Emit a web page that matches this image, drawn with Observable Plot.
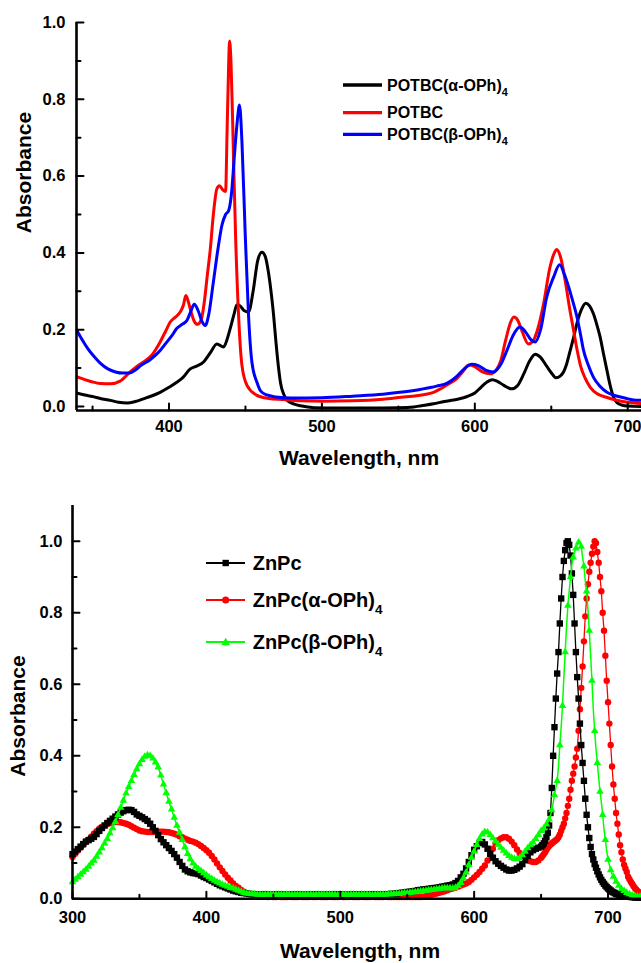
<!DOCTYPE html>
<html><head><meta charset="utf-8">
<script src="https://cdn.jsdelivr.net/npm/d3@7"></script>
<script src="https://cdn.jsdelivr.net/npm/@observablehq/plot@0.6"></script>
<style>
body{margin:0;background:#fff;}
#wrap{position:relative;width:641px;height:963px;overflow:hidden;background:#fff;}
.chart{position:absolute;left:0;}
#overlay{position:absolute;left:0;top:0;pointer-events:none;}
</style></head>
<body><div id="wrap"></div>
<script>
// ---------- TOP PANEL DATA: [wavelength nm, absorbance] ----------
const potbcAlpha = [[339.5,0.035],[345,0.03],[350,0.026],[355,0.021],[361.6,0.016],[367,0.011],[372.5,0.009],[378,0.013],[383.3,0.02],[389,0.028],[394.2,0.037],[400,0.05],[405.1,0.063],[409,0.075],[413.9,0.098],[418,0.105],[422.6,0.116],[427,0.14],[431.3,0.163],[435.7,0.155],[438,0.175],[440,0.203],[442.5,0.24],[444.4,0.265],[446.5,0.262],[449,0.25],[452,0.246],[455,0.3],[458,0.38],[460.8,0.402],[463,0.39],[465,0.35],[467,0.29],[468.3,0.242],[470,0.165],[471.6,0.102],[473,0.06],[474.9,0.033],[477,0.017],[481.4,0.007],[486,0.002],[495,-0.003],[510,-0.004],[530,-0.004],[550,-0.003],[560,-0.001],[565,0.002],[573,0.007],[580,0.013],[586,0.017],[590,0.02],[595,0.026],[600,0.035],[604,0.05],[608,0.064],[611.5,0.07],[615,0.065],[619,0.055],[624,0.046],[628,0.055],[632,0.085],[636,0.12],[639.5,0.136],[643,0.128],[647,0.105],[650,0.088],[653,0.075],[656,0.08],[658,0.09],[660,0.11],[662,0.14],[664.6,0.18],[667,0.22],[670,0.255],[672.5,0.269],[675,0.262],[677.5,0.242],[680,0.21],[682,0.18],[684,0.14],[686.4,0.094],[688.5,0.055],[690.7,0.024],[693,0.01],[696,0.004],[700,0.001],[709,0.0]];
const potbc = [[339.5,0.078],[345,0.07],[350,0.064],[355,0.06],[361.6,0.059],[368,0.066],[374.6,0.09],[379,0.104],[383.3,0.116],[389,0.135],[394.2,0.168],[398,0.198],[400.8,0.22],[404,0.232],[407.3,0.246],[409.5,0.265],[411,0.289],[412.5,0.275],[414.5,0.245],[416.5,0.222],[418.6,0.214],[421,0.225],[423,0.27],[425,0.34],[427,0.41],[429,0.5],[431.3,0.567],[433,0.575],[435,0.565],[437,0.56],[438,0.72],[439,0.89],[439.6,0.952],[440.5,0.9],[441.5,0.76],[442.5,0.6],[443.5,0.45],[445.5,0.237],[447.7,0.107],[451,0.055],[457.5,0.029],[465,0.021],[475,0.018],[485,0.015],[500,0.014],[520,0.015],[540,0.019],[552,0.024],[562,0.028],[568,0.032],[573,0.037],[578,0.047],[583,0.059],[588,0.072],[592,0.09],[596,0.108],[600,0.104],[605,0.09],[610,0.085],[614,0.095],[617,0.12],[620,0.17],[623,0.215],[625.5,0.233],[628,0.225],[631,0.195],[635,0.163],[638,0.17],[641,0.2],[645,0.268],[649,0.36],[652,0.4],[653.5,0.409],[656,0.39],[659,0.33],[662,0.255],[664.6,0.198],[667,0.145],[669,0.108],[672,0.075],[675.5,0.05],[680,0.033],[686,0.024],[692,0.017],[700,0.011],[709,0.008]];
const potbcBeta = [[339.5,0.2],[343,0.175],[347,0.15],[351,0.13],[355,0.113],[360,0.098],[365,0.09],[370,0.087],[374,0.087],[378,0.095],[382,0.108],[387,0.12],[391,0.133],[394.2,0.146],[398,0.165],[402,0.185],[405,0.203],[409,0.215],[411.7,0.224],[414,0.245],[416.5,0.266],[419,0.25],[421.5,0.222],[423.7,0.211],[426,0.24],[429,0.324],[432,0.41],[434.6,0.472],[437,0.5],[439,0.51],[441,0.56],[442.5,0.64],[444.4,0.733],[446.1,0.785],[447.7,0.689],[449.8,0.454],[452,0.237],[454.2,0.116],[457.5,0.063],[460,0.04],[464,0.03],[470,0.025],[480,0.022],[500,0.023],[520,0.027],[540,0.032],[551,0.037],[565,0.045],[575,0.053],[582,0.061],[588,0.078],[593,0.098],[598,0.11],[602,0.107],[607,0.095],[612,0.09],[617,0.11],[621,0.146],[625,0.185],[629.5,0.207],[633,0.195],[636.5,0.175],[639.5,0.168],[643,0.2],[647,0.285],[651.5,0.337],[655.5,0.369],[658.5,0.345],[661.4,0.311],[664,0.275],[666.8,0.233],[669,0.19],[671.1,0.146],[674,0.11],[677.6,0.076],[682,0.052],[686.4,0.037],[692,0.028],[698,0.022],[703.8,0.017],[709,0.016]];

const topXMajor = [400,500,600,700], topXMinor = [350,450,550,650];
const topYMajor = [0,0.2,0.4,0.6,0.8,1.0], topYMinor = [0.1,0.3,0.5,0.7,0.9];
const topLegend = ["POTBC(α-OPh)", "POTBC", "POTBC(β-OPh)"];

// ---------- BOTTOM PANEL DATA ----------
const wlBottom = [
300,302,304,306,308,310,312,314,316,318,
320,322,324,326,328,330,332,334,336,338,
340,342,344,346,348,350,352,354,356,358,
360,362,364,366,368,370,372,374,376,378,
380,382,384,386,388,390,392,394,396,398,
400,402,404,406,408,410,412,414,416,418,
420,422,424,426,428,430,432,434,436,438,
440,442,444,446,448,450,452,454,456,458,
460,462,464,466,468,470,472,474,476,478,
480,482,484,486,488,490,492,494,496,498,
500,502,504,506,508,510,512,514,516,518,
520,522,524,526,528,530,532,534,536,538,
540,542,544,546,548,550,552,554,556,558,
560,562,564,566,568,570,572,574,576,578,
580,582,584,586,588,590,592,594,596,598,
600,602,604,606,608,610,612,614,616,618,
620,622,624,626,628,630,632,634,636,638,
640,642,644,646,648,650,
651,652,653,654,655,656,657,658,659,660,
661,662,663,664,665,666,667,668,669,670,
671,672,673,674,675,676,677,678,679,680,
681,682,683,684,685,686,687,688,689,690,
691,692,693,694,695,696,697,698,699,700,
701,702,703,704,705,706,707,708,709,710,
711,712,713,714,715,716,717,718,719,720,
721,722,723,724,725];
const znpc = [
0.125,0.132,0.139,0.146,0.153,0.16,0.164,0.168,0.173,0.181,
0.19,0.198,0.205,0.212,0.218,0.224,0.23,0.236,0.241,0.245,
0.248,0.249,0.248,0.243,0.236,0.232,0.228,0.223,0.218,0.21,
0.2,0.19,0.178,0.167,0.158,0.15,0.142,0.134,0.125,0.115,
0.103,0.092,0.082,0.077,0.074,0.072,0.071,0.069,0.065,0.061,
0.058,0.054,0.05,0.046,0.042,0.038,0.035,0.032,0.029,0.026,
0.023,0.021,0.019,0.017,0.016,0.015,0.014,0.013,0.013,0.012,
0.012,0.012,0.013,0.012,0.011,0.012,0.012,0.013,0.012,0.012,
0.011,0.012,0.012,0.012,0.013,0.012,0.011,0.012,0.012,0.012,
0.012,0.013,0.012,0.012,0.011,0.012,0.012,0.012,0.013,0.012,
0.012,0.012,0.011,0.012,0.012,0.013,0.012,0.012,0.012,0.012,
0.012,0.012,0.013,0.012,0.012,0.012,0.012,0.013,0.013,0.014,
0.014,0.015,0.016,0.017,0.018,0.019,0.02,0.021,0.022,0.024,
0.025,0.026,0.027,0.028,0.029,0.03,0.031,0.032,0.034,0.035,
0.037,0.038,0.04,0.044,0.05,0.06,0.07,0.085,0.103,0.122,
0.137,0.147,0.156,0.159,0.152,0.14,0.126,0.115,0.105,0.098,
0.092,0.087,0.082,0.079,0.079,0.081,0.085,0.09,0.097,0.108,
0.12,0.13,0.136,0.14,0.143,0.146,
0.15,0.155,0.162,0.172,0.185,0.205,0.24,0.31,0.4,0.48,
0.56,0.63,0.69,0.77,0.84,0.9,0.945,0.975,0.995,1.0,
0.99,0.96,0.91,0.85,0.77,0.69,0.62,0.56,0.49,0.43,
0.38,0.33,0.28,0.235,0.2,0.17,0.145,0.125,0.11,0.097,
0.087,0.077,0.068,0.06,0.053,0.047,0.042,0.037,0.033,0.029,
0.026,0.023,0.02,0.018,0.016,0.014,0.013,0.012,0.011,0.01,
0.009,0.008,0.007,0.007,0.006,0.006,0.005,0.005,0.005,0.004,
0.004,0.004,0.004,0.003,0.003];
const znpcAlpha = [
0.117,0.126,0.135,0.143,0.151,0.159,0.166,0.174,0.182,0.189,
0.196,0.201,0.205,0.209,0.212,0.214,0.215,0.215,0.214,0.212,
0.21,0.207,0.203,0.199,0.195,0.191,0.189,0.188,0.187,0.187,
0.187,0.187,0.188,0.188,0.188,0.187,0.186,0.184,0.182,0.179,
0.175,0.172,0.168,0.165,0.162,0.16,0.157,0.153,0.148,0.142,
0.136,0.129,0.12,0.11,0.099,0.088,0.078,0.068,0.059,0.051,
0.043,0.036,0.031,0.025,0.02,0.016,0.013,0.011,0.009,0.008,
0.007,0.006,0.006,0.005,0.006,0.005,0.005,0.006,0.005,0.005,
0.005,0.006,0.005,0.005,0.005,0.006,0.005,0.005,0.005,0.006,
0.005,0.005,0.006,0.005,0.005,0.005,0.006,0.005,0.005,0.005,
0.006,0.005,0.005,0.005,0.006,0.005,0.005,0.005,0.006,0.005,
0.005,0.005,0.006,0.005,0.005,0.005,0.005,0.006,0.005,0.005,
0.005,0.005,0.005,0.005,0.005,0.005,0.005,0.005,0.005,0.005,
0.005,0.006,0.007,0.009,0.011,0.013,0.015,0.017,0.019,0.021,
0.024,0.027,0.029,0.031,0.034,0.037,0.04,0.043,0.047,0.053,
0.06,0.067,0.075,0.084,0.093,0.107,0.124,0.14,0.155,0.164,
0.169,0.172,0.172,0.168,0.16,0.15,0.138,0.128,0.12,0.113,
0.108,0.105,0.103,0.103,0.107,0.115,
0.12,0.125,0.13,0.137,0.143,0.148,0.152,0.155,0.158,0.161,
0.164,0.167,0.172,0.18,0.19,0.2,0.21,0.225,0.24,0.26,
0.28,0.305,0.33,0.35,0.37,0.395,0.42,0.47,0.53,0.59,
0.65,0.72,0.79,0.84,0.88,0.915,0.94,0.965,0.985,1.0,
0.995,0.97,0.94,0.9,0.86,0.8,0.75,0.68,0.61,0.55,
0.49,0.43,0.37,0.32,0.28,0.24,0.21,0.18,0.15,0.13,
0.11,0.095,0.085,0.075,0.062,0.055,0.048,0.042,0.036,0.03,
0.026,0.022,0.019,0.016,0.014];
const znpcBeta = [
0.047,0.054,0.061,0.068,0.075,0.082,0.09,0.099,0.107,0.118,
0.13,0.142,0.155,0.168,0.183,0.198,0.215,0.235,0.255,0.275,
0.295,0.313,0.33,0.347,0.363,0.377,0.389,0.398,0.402,0.4,
0.393,0.382,0.368,0.345,0.32,0.296,0.272,0.25,0.227,0.205,
0.185,0.165,0.145,0.126,0.111,0.099,0.09,0.083,0.078,0.072,
0.066,0.061,0.056,0.051,0.047,0.043,0.04,0.037,0.034,0.031,
0.029,0.026,0.023,0.02,0.017,0.015,0.014,0.013,0.013,0.012,
0.012,0.011,0.012,0.012,0.012,0.011,0.012,0.012,0.012,0.011,
0.012,0.012,0.011,0.012,0.012,0.012,0.011,0.012,0.012,0.012,
0.011,0.012,0.012,0.012,0.011,0.012,0.012,0.012,0.012,0.011,
0.012,0.012,0.012,0.011,0.012,0.012,0.012,0.011,0.012,0.012,
0.012,0.012,0.011,0.012,0.012,0.012,0.012,0.012,0.013,0.013,
0.013,0.014,0.014,0.015,0.016,0.016,0.017,0.018,0.019,0.02,
0.021,0.022,0.023,0.024,0.025,0.026,0.027,0.028,0.029,0.03,
0.03,0.03,0.029,0.031,0.036,0.045,0.058,0.074,0.095,0.115,
0.133,0.151,0.168,0.18,0.187,0.186,0.179,0.17,0.161,0.152,
0.143,0.135,0.127,0.12,0.115,0.112,0.111,0.114,0.122,0.132,
0.142,0.15,0.158,0.168,0.179,0.19,
0.193,0.197,0.202,0.208,0.215,0.222,0.232,0.248,0.268,0.29,
0.31,0.33,0.37,0.43,0.48,0.54,0.62,0.69,0.76,0.82,
0.86,0.9,0.935,0.955,0.97,0.98,0.99,0.997,1.0,0.985,
0.955,0.93,0.89,0.86,0.81,0.75,0.68,0.61,0.53,0.47,
0.42,0.38,0.34,0.3,0.27,0.235,0.195,0.165,0.135,0.11,
0.095,0.08,0.07,0.062,0.055,0.048,0.042,0.037,0.032,0.028,
0.025,0.022,0.019,0.017,0.015,0.013,0.011,0.01,0.009,0.008,
0.007,0.007,0.006,0.006,0.005];

const botXMajor = [300,400,500,600,700], botXMinor = [350,450,550,650];
const botYMajor = [0,0.2,0.4,0.6,0.8,1.0], botYMinor = [0.1,0.3,0.5,0.7,0.9];
const botLegend = ["ZnPc", "ZnPc(α-OPh)", "ZnPc(β-OPh)"];

// ---------- DRAWING ----------
const FONT = '"Liberation Sans", Arial, Helvetica, sans-serif';
const wrap = document.getElementById("wrap");
const tickShape = {draw(ctx, l) { ctx.moveTo(0, 0); ctx.lineTo(0, -l); }};

function axesMarks(xd, yd, xMaj, xMin, yMaj, yMin, xPad, yPad) {
  const vt = (data, isX, len) => Plot.vector(data, {
    x: isX ? (d => d) : (() => xd[0]),
    y: isX ? (() => yd[0]) : (d => d),
    length: len, rotate: isX ? 0 : 90, anchor: "start",
    shape: tickShape, stroke: "black", strokeWidth: 2
  });
  return [
    Plot.axisX(xMaj, {tickSize: 0, tickPadding: xPad, fontSize: 16.5, fontWeight: "bold", label: null}),
    Plot.axisY(yMaj, {tickSize: 0, tickPadding: yPad, fontSize: 16.5, fontWeight: "bold", label: null, tickFormat: d => d.toFixed(1)}),
    vt(xMaj, true, 7), vt(xMin, true, 4), vt(yMaj, false, 7), vt(yMin, false, 4),
    Plot.ruleY([yd[0]], {stroke: "black", strokeWidth: 2.6}),
    Plot.ruleX([xd[0]], {stroke: "black", strokeWidth: 2.6})
  ];
}

// top panel
const topXd = [339.5, 709], topYd = [-0.0104, 1.0];
const topSeries = [
  {data: potbcAlpha, color: "#000000"},
  {data: potbc, color: "#ff0000"},
  {data: potbcBeta, color: "#0000ff"}
];
const topPlot = Plot.plot({
  width: 641, height: 480,
  marginLeft: 76, marginRight: 0, marginTop: 22, marginBottom: 70,
  x: {domain: topXd}, y: {domain: topYd},
  style: {fontFamily: FONT, color: "black", background: "white"},
  marks: [
    ...topSeries.map(s => Plot.line(s.data, {x: d => d[0], y: d => d[1], stroke: s.color, strokeWidth: 3, curve: "monotone-x", clip: true})),
    ...axesMarks(topXd, topYd, topXMajor, topXMinor, topYMajor, topYMinor, 10, 11)
  ]
});
topPlot.classList.add("chart");
topPlot.style.top = "0px";
wrap.appendChild(topPlot);

// bottom panel
const botXd = [300, 725], botYd = [0, 1.1];
const rows = arr => wlBottom.map((w, i) => ({w, a: arr[i]}));
const bBlack = rows(znpc), bRed = rows(znpcAlpha), bGreen = rows(znpcBeta);
const botPlot = Plot.plot({
  width: 641, height: 483,
  marginLeft: 72, marginRight: 0, marginTop: 25, marginBottom: 64.7,
  x: {domain: botXd}, y: {domain: botYd},
  style: {fontFamily: FONT, color: "black", background: "white"},
  marks: [
    Plot.line(bRed, {x: "w", y: "a", stroke: "#ff0000", strokeWidth: 1.3}),
    Plot.dot(bRed, {x: "w", y: "a", symbol: "circle", r: 3.2, fill: "#ff0000"}),
    Plot.line(bBlack, {x: "w", y: "a", stroke: "#000000", strokeWidth: 1.3}),
    Plot.dot(bBlack, {x: "w", y: "a", symbol: "square", r: 3.6, fill: "#000000"}),
    Plot.line(bGreen, {x: "w", y: "a", stroke: "#00ff00", strokeWidth: 1.5}),
    Plot.dot(bGreen, {x: "w", y: "a", symbol: "triangle", r: 2.8, fill: "#00ff00",
      filter: d => d.w <= 650 || d.w % 2 === 0}),
    ...axesMarks(botXd, botYd, botXMajor, botXMinor, botYMajor, botYMinor, 12, 10)
  ]
});
botPlot.classList.add("chart");
botPlot.style.top = "480px";
wrap.appendChild(botPlot);

// overlay: axis titles and legends
const NS = "http://www.w3.org/2000/svg";
const ov = document.createElementNS(NS, "svg");
ov.setAttribute("id", "overlay");
ov.setAttribute("width", 641); ov.setAttribute("height", 963);
ov.setAttribute("font-family", FONT); ov.setAttribute("font-weight", "bold");
wrap.appendChild(ov);
function el(tag, attrs, text) {
  const e = document.createElementNS(NS, tag);
  for (const k in attrs) e.setAttribute(k, attrs[k]);
  if (text != null) e.textContent = text;
  ov.appendChild(e); return e;
}
function title(txt, x, y, rot) {
  el("text", {x: 0, y: 0, "font-size": 21, "text-anchor": "middle",
    transform: `translate(${x},${y})` + (rot ? " rotate(-90)" : "")}, txt);
}
title("Absorbance", 30.5, 172.5, true);
title("Wavelength, nm", 359, 465, false);
title("Absorbance", 24.5, 716, true);
title("Wavelength, nm", 360, 958, false);

function legendText(x, y, fs, main, sub) {
  const t = el("text", {x, y: y + 0.36 * fs, "font-size": fs});
  const a = document.createElementNS(NS, "tspan"); a.textContent = main; t.appendChild(a);
  if (sub) {
    const b = document.createElementNS(NS, "tspan");
    b.setAttribute("dy", fs * 0.32); b.setAttribute("font-size", fs * 0.68);
    b.textContent = sub; t.appendChild(b);
  }
}
// top legend
const topRowsY = [85, 112.7, 134.3];
topSeries.forEach((s, i) => {
  el("line", {x1: 343, x2: 382, y1: topRowsY[i], y2: topRowsY[i], stroke: s.color, "stroke-width": 3.3});
  legendText(387, topRowsY[i], 16, topLegend[i], i === 1 ? null : "4");
});
// bottom legend
const botRowsY = [563, 600, 642];
const botColors = ["#000000", "#ff0000", "#00ff00"];
botRowsY.forEach((y, i) => {
  const c = botColors[i];
  el("line", {x1: 206, x2: 245, y1: y, y2: y, stroke: c, "stroke-width": 1.8});
  if (i === 0) el("rect", {x: 222.5, y: y - 3.2, width: 6.4, height: 6.4, fill: c});
  if (i === 1) el("circle", {cx: 225.7, cy: y, r: 3.6, fill: c});
  if (i === 2) el("path", {d: `M225.7,${y - 4.2}L230.2,${y + 3.2}L221.2,${y + 3.2}Z`, fill: c});
  legendText(252.7, y, 20, botLegend[i], i === 0 ? null : "4");
});
</script></body></html>
